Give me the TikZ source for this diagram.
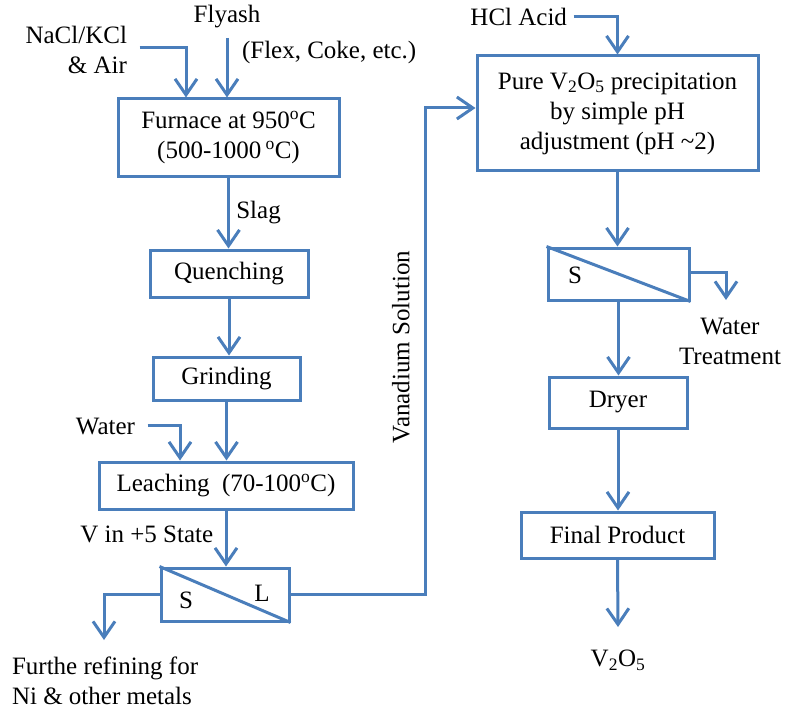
\documentclass[tikz,border=0pt]{standalone}
\usepackage{fontspec}
\setmainfont{Liberation Serif}
\usetikzlibrary{arrows.meta}
\definecolor{flowblue}{RGB}{74,126,187}

\begin{document}
\begin{tikzpicture}[x=1pt,y=-1pt,>={Straight Barb[length=16pt,width=22pt]},
    font=\fontsize{25}{30}\selectfont,
    box/.style={draw=flowblue,line width=3pt,align=center,inner sep=0pt},
    flow/.style={->,draw=flowblue,line width=3pt},
    line/.style={draw=flowblue,line width=3pt}]
    \useasboundingbox (0,0) rectangle (791,711);

    % process boxes
    \node[box,minimum width=221,minimum height=78] (furnace) at (228.5,138) {Furnace at 950\textsuperscript{o}C\\(500-1000\,\textsuperscript{o}C)};
    \node[box,minimum width=158,minimum height=47] (quench) at (229,273.5) {Quenching};
    \node[box,minimum width=147,minimum height=43] (grind) at (226.5,378.5) {Grinding};
    \node[box,minimum width=254,minimum height=47] (leach) at (226,485.5) {Leaching\ \ (70-100\textsuperscript{o}C)};
    \node[box,minimum width=128,minimum height=53] (sep1) at (225,594.5) {};
    \node[box,minimum width=281,minimum height=115] (precip) at (617.5,113.5) {Pure V\textsubscript{2}O\textsubscript{5} precipitation\\by simple pH\\adjustment (pH \textasciitilde2)};
    \node[box,minimum width=141,minimum height=52] (sep2) at (618.5,274) {};
    \node[box,minimum width=138,minimum height=51] (dryer) at (618,402.5) {Dryer};
    \node[box,minimum width=193,minimum height=46] (final) at (617.5,535) {Final Product};

    % streams in and out
    \node[align=right,anchor=east] (salt) at (130.5,50) {NaCl/KCl\\\& Air};
    \node (flyash) at (227,17) {Flyash};
    \node[anchor=west] (flex) at (238.5,52) {(Flex, Coke, etc.)};
    \node[anchor=east] (water) at (138.5,427) {Water};
    \node[anchor=east] (hcl) at (570.5,17) {HCl Acid};
    \node[rotate=90] (vsol) at (401,347) {Vanadium Solution};
    \node[align=center] (wtreat) at (730,341) {Water\\Treatment};
    \node[align=left,anchor=west] (refine) at (8.5,681) {Furthe refining for\\Ni \& other metals};
    \node (prod) at (618,660) {V\textsubscript{2}O\textsubscript{5}};
    \node (s1) at (186,600) {S};
    \node (l1) at (262,593) {L};
    \node (s2) at (575,275) {S};

    \coordinate (refin) at (104,640);
    \coordinate (wtin) at (726,300);
    \coordinate (prodin) at (618,627);
    \coordinate (vturn) at (425,350);

    \draw[flow] ([shift={(9,-2)}]salt.east) -| ([xshift=-42.5pt]furnace.north);
    \draw[flow] ([yshift=-6pt]flyash.south) -- (flyash.south |- furnace.north);
    \draw[flow] (furnace.south) -- (furnace.south |- quench.north) node[pos=.49,right=3pt] {Slag};
    \draw[flow] (quench.south) -- (quench.south |- grind.north);
    \draw[flow] (grind.south) -- (grind.south |- leach.north);
    \draw[flow] ([shift={(9,-2)}]water.east) -| ([xshift=-46pt]leach.north);
    \draw[flow] (leach.south) -- (leach.south |- sep1.north) node[pos=.42,left=8pt] {V in +5 State};
    \draw[line] (sep1.north west) -- (sep1.south east);
    \draw[flow] (sep1.west) -| (refin);
    \draw[flow] (sep1.east) -| (vturn) |- ([yshift=5.5pt]precip.west);
    \draw[flow] ([xshift=3pt]hcl.east) -| (precip.north);
    \draw[flow] (precip.south) -- (precip.south |- sep2.north);
    \draw[line] (sep2.north west) -- (sep2.south east);
    \draw[flow] ([yshift=2pt]sep2.east) -| (wtin);
    \draw[flow] (sep2.south) -- (sep2.south |- dryer.north);
    \draw[flow] (dryer.south) -- (dryer.south |- final.north);
    \draw[flow] (final.south) -- (prodin);
\end{tikzpicture}
\end{document}
